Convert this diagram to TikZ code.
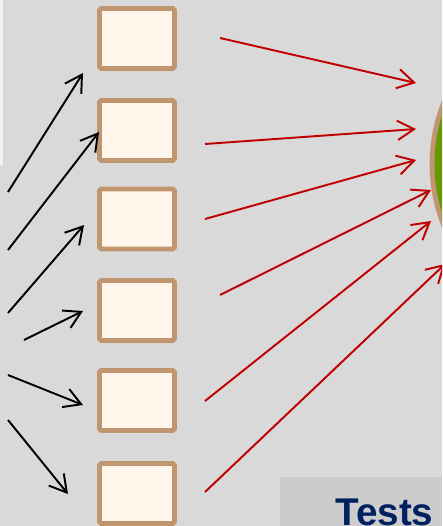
\documentclass[tikz,border=0pt]{standalone}
\usepackage{fontspec}
\setmainfont{Liberation Sans}
\usepackage{tikz}
\usetikzlibrary{positioning, arrows.meta}
\definecolor{bGray}{HTML}{D9D9D9}
\definecolor{pLight}{HTML}{F2F2F2}
\definecolor{cFill}{HTML}{FFF5EB}
\definecolor{cTan}{HTML}{C09670}
\definecolor{aRed}{HTML}{C00000}
\definecolor{oGreen}{HTML}{669900}
\definecolor{tGray}{HTML}{CCCCCC}
\definecolor{tNavy}{HTML}{002060}
\tikzset{
  cell/.style={draw=cTan, fill=cFill, line width=2.8pt, rounded corners=1pt,
    minimum width=1.5cm, minimum height=1.2cm, inner sep=0pt},
  feed/.style={draw=black, line width=1.1pt, -{Straight Barb[length=9.5pt,width=11pt]}},
  vote/.style={draw=aRed, line width=1.1pt, -{Straight Barb[length=9.5pt,width=11pt]}}
}

\begin{document}
\begin{tikzpicture}[x=0.02cm, y=-0.02cm]
      \useasboundingbox (0,0) rectangle (442,526);
      \clip (0,0) rectangle (442,526);
      \fill[bGray] (0,0) rectangle (442,526);
      \fill[pLight] (0,0) rectangle (3,165);
      % the six boxes
      \foreach \i/\y in {1/38.5, 2/130.5, 3/219, 4/310.5, 5/400.5, 6/493.5}
        \node[cell] (c\i) at (137,\y) {};
      \node[circle, draw=cTan, fill=oGreen, line width=2.8pt, minimum size=6.64cm, inner sep=0pt]
        (ball) at (598,164) {};
      % incoming arrows
      \foreach \i/\sx/\sy/\ex/\ey in {1/8/192/83/73, 2/8/250/99/132, 3/8/313/84/225,
          4/24/340/83/311, 5/8/375/83/405, 6/8/420/68/494} {
        \coordinate (ks\i) at (\sx,\sy);
        \coordinate (ke\i) at (\ex,\ey);
        \draw[feed] (ks\i) -- (ke\i);
      }
      % arrows to the ball
      \foreach \i/\sx/\sy/\ex/\ey in {1/220/38/416/83, 2/205/144/416/129, 3/205/219/416/160,
          4/220/295/431/190, 5/205/401/431/221, 6/205/492/445/264} {
        \coordinate (rs\i) at (\sx,\sy);
        \coordinate (re\i) at (\ex,\ey);
        \draw[vote] (rs\i) -- (re\i);
      }
      \fill[tGray] (280,477) rectangle (442,526);
      \node[font=\fontsize{22}{26}\selectfont\bfseries, text=tNavy, anchor=base west, inner sep=0pt]
        (tests) at (335,525) {Tests};
    \end{tikzpicture}
\end{document}
